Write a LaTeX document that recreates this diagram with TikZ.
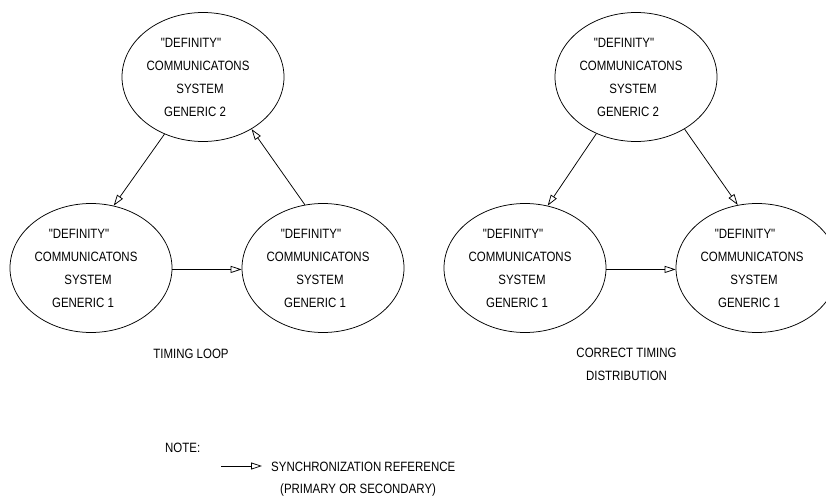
\documentclass[tikz,border=0pt]{standalone}
\usepackage{fontspec}
\setmainfont{Liberation Sans}[FakeStretch=0.85, Ligatures=TeXOff]
\usetikzlibrary{arrows.meta,shapes.geometric}
\newcommand\systext[1]{\hspace*{-24pt}"DEFINITY"\\\hspace*{-10pt}COMMUNICATONS\\\hspace*{-6pt}SYSTEM\\\hspace*{-16pt}GENERIC #1}
\begin{document}
\begin{tikzpicture}[x=1pt,y=-1pt,
  font=\fontsize{13.5}{23}\selectfont,
  sys/.style={ellipse, draw, line width=0.75pt, minimum width=162pt, minimum height=129pt, inner sep=0pt, align=center},
  syncarrow/.style={draw, line width=0.75pt, -{Triangle[open,length=11pt,width=7pt,line width=0.75pt]}},
  lbl/.style={inner sep=0pt}]
\useasboundingbox (0,0) rectangle (826,497);
% left diagram: timing loop
\node[sys] (lt) at (203,77) {\systext{2}};
\node[sys] (lbl1) at (91,268) {\systext{1}};
\node[sys] (lbr) at (323,268) {\systext{1}};
\draw[syncarrow] (lt.-124) -- (lbl1.70);
\draw[syncarrow] (lbl1.-1) -- (lbr.181);
\draw[syncarrow] (lbr.106) -- (lt.-47);
\node[lbl, anchor=base] (loop) at (191,358) {TIMING LOOP};
% right diagram: correct distribution
\node[sys] (rt) at (636,77) {\systext{2}};
\node[sys] (rbl) at (525,268) {\systext{1}};
\node[sys] (rbr) at (757,268) {\systext{1}};
\draw[syncarrow] (rt.-125) -- (rbl.70);
\draw[syncarrow] (rt.-47) -- (rbr.107);
\draw[syncarrow] (rbl.-1) -- (rbr.181);
\node[lbl, align=center] (correct) at (626.5,364.5) {CORRECT TIMING\\DISTRIBUTION};
% note / legend
\node[lbl, anchor=base west] (note) at (165,452) {NOTE:};
\coordinate (la) at (221,466);
\coordinate (lb) at (262,466);
\draw[syncarrow] (la) -- (lb);
\node[lbl, anchor=base west] (sync) at (271,471) {SYNCHRONIZATION REFERENCE};
\node[lbl, anchor=base west] (prim) at (280,493) {(PRIMARY OR SECONDARY)};
\end{tikzpicture}
\end{document}
